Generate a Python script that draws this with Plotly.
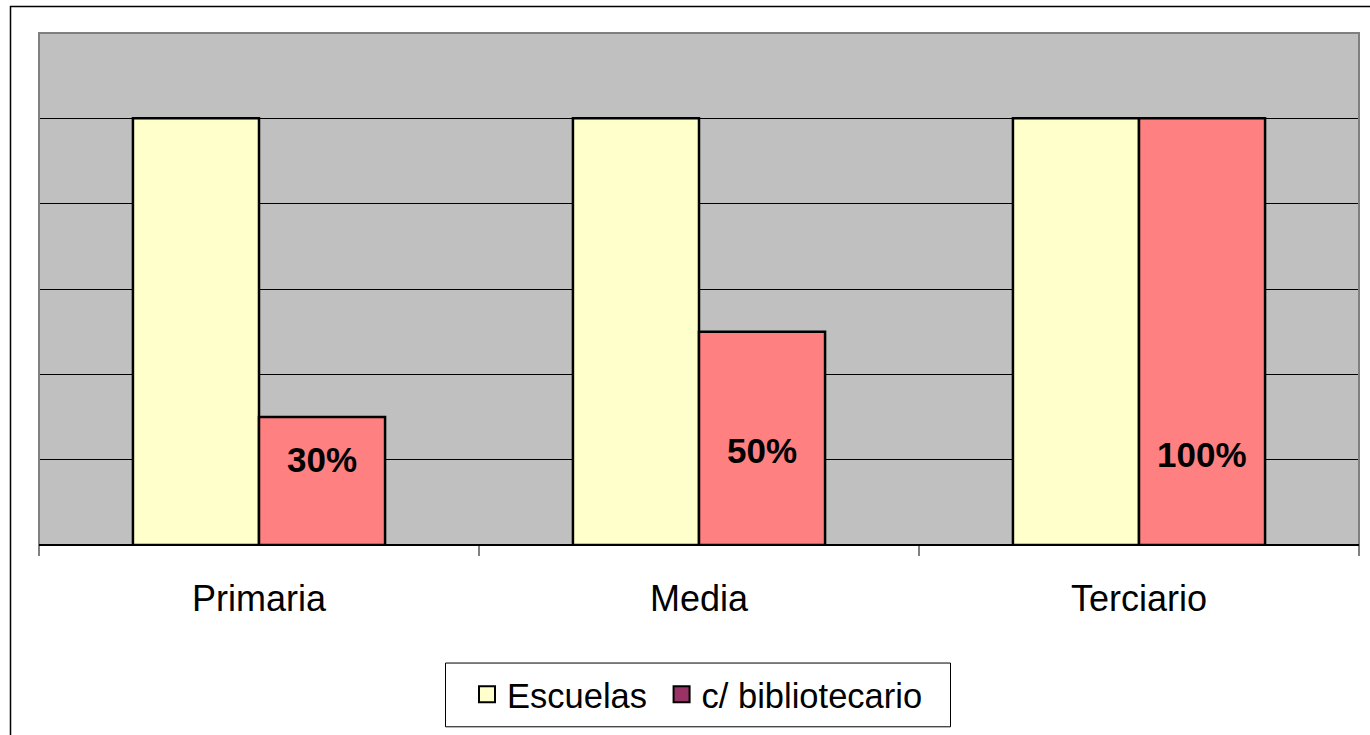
import plotly.graph_objects as go

categories = ["Primaria", "Media", "Terciario"]
escuelas = [100, 100, 100]
bibliotecario = [30, 50, 100]
labels = ["30%", "50%", "100%"]
label_y = [20, 22.2, 21.3]  # label vertical placement (axis units)

W, H = 1370, 735
L, R, T, B = 39, 11, 33, 188
pw, ph = W - L - R, H - T - B


def px_x(x):
    return (x - L) / pw


def px_y(y):
    return (T + ph - y) / ph


fig = go.Figure()
fig.add_trace(go.Bar(x=categories, y=escuelas, name="Escuelas",
                     marker=dict(color="#FFFFCC", line=dict(color="black", width=2.5)),
                     showlegend=False))
fig.add_trace(go.Bar(x=categories, y=bibliotecario, name="c/ bibliotecario",
                     marker=dict(color="#FF8080", line=dict(color="black", width=2.5)),
                     showlegend=False))
# legend entries
fig.add_trace(go.Scatter(x=[None], y=[None], mode="markers", name="Escuelas&nbsp;",
                         marker=dict(symbol="square", size=16, color="#FFFFCC",
                                     line=dict(color="black", width=2))))
fig.add_trace(go.Scatter(x=[None], y=[None], mode="markers", name="c/ bibliotecario",
                         marker=dict(symbol="square", size=16, color="#993366",
                                     line=dict(color="black", width=2))))

bargap = 0.427
offset = (1 - bargap) / 4
for i, (lab, yy) in enumerate(zip(labels, label_y)):
    fig.add_annotation(x=i + offset, y=yy, text="<b>" + lab + "</b>", showarrow=False,
                       font=dict(family="Liberation Sans, Arial", size=35, color="black"),
                       xref="x", yref="y")

# plot-area border (gray), outer chart border, legend box
fig.add_shape(type="rect", xref="paper", yref="paper", x0=0, x1=1, y0=0, y1=1,
              line=dict(color="#808080", width=2), layer="above")
fig.add_shape(type="rect", xref="paper", yref="paper",
              x0=px_x(10.5), x1=1.2, y0=-0.6, y1=px_y(6.5),
              line=dict(color="black", width=1.5), layer="above")
fig.add_shape(type="line", xref="paper", yref="paper", x0=0, x1=1, y0=0, y1=0,
              line=dict(color="black", width=2), layer="above")
fig.add_shape(type="rect", xref="paper", yref="paper",
              x0=px_x(445.5), x1=px_x(950.5), y0=px_y(729.5), y1=px_y(665.5),
              line=dict(color="black", width=1), fillcolor="white", layer="above")

fig.update_layout(
    width=W, height=H,
    margin=dict(l=L, r=R, t=T, b=B),
    paper_bgcolor="white", plot_bgcolor="#C0C0C0",
    barmode="group", bargap=bargap, bargroupgap=0,
    font=dict(family="Liberation Sans, Arial", color="black"),
    showlegend=True,
    legend=dict(orientation="h", x=px_x(697.5), xanchor="center",
                y=px_y(697), yanchor="middle",
                bgcolor="rgba(0,0,0,0)", borderwidth=0,
                font=dict(size=34.5), itemsizing="trace"),
    xaxis=dict(showgrid=False, tickson="boundaries", ticks="outside", ticklen=10,
               tickcolor="#808080", tickwidth=2, tickfont=dict(size=36),
               ticklabelstandoff=29, showline=False, zeroline=False, fixedrange=True),
    yaxis=dict(range=[0, 120], dtick=20, showgrid=True, gridcolor="black", gridwidth=1,
               showticklabels=False, zeroline=False, showline=False, fixedrange=True),
)

fig.write_html("out.html", post_script="document.body.style.margin='0';",
               config={"displayModeBar": False})
